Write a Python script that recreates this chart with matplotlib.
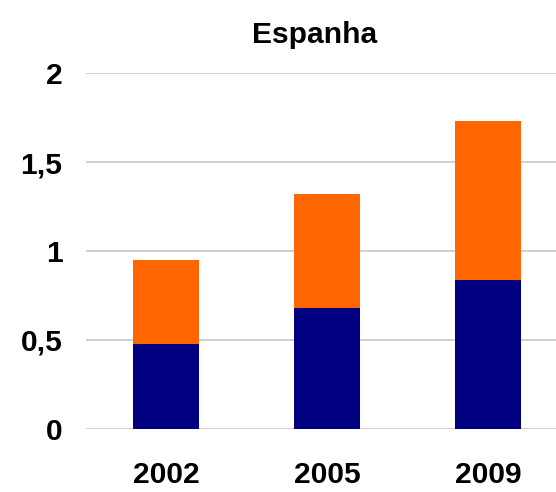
import matplotlib
matplotlib.use("Agg")
import matplotlib.pyplot as plt
import numpy as np

categories = ["2002", "2005", "2009"]
bottom_values = [0.477, 0.679, 0.837]
top_values = [0.472, 0.642, 0.895]
yticks = [0, 0.5, 1, 1.5, 2]
ytick_labels = ["0", "0,5", "1", "1,5", "2"]
title = "Espanha"

plt.rcParams['font.family'] = ['Liberation Sans', 'DejaVu Sans']

W, H = 556, 492
fig = plt.figure(figsize=(W / 100, H / 100), dpi=100)
ax = fig.add_axes([86 / W, (H - 428.7) / H, (W - 86) / W, (428.7 - 73.3) / H])

x = np.arange(len(categories))
navy = "#000080"
orange = "#FF6600"
ax.bar(x, bottom_values, width=0.41, color=navy, zorder=3)
ax.bar(x, top_values, width=0.41, bottom=bottom_values, color=orange, zorder=3)

ax.set_xlim(-0.5, 2.42)
ax.set_ylim(0, 2)
ax.set_yticks(yticks)
ax.set_yticklabels(ytick_labels)
ax.set_xticks(x)
ax.set_xticklabels(categories)
ax.yaxis.grid(True, color="#c8c8c8", linewidth=1.2, zorder=0)
ax.set_axisbelow(True)
for s in ax.spines.values():
    s.set_visible(False)
ax.tick_params(axis='y', length=0, pad=17, labelsize=21.6)
ax.tick_params(axis='x', length=0, pad=23, labelsize=21.6)
for lab in ax.get_xticklabels() + ax.get_yticklabels():
    lab.set_fontweight('bold')

fig.text(314.7 / W, 1 - 43 / H, title, ha='center', va='baseline',
         fontsize=21.6, fontweight='bold')

fig.savefig("out.png", dpi=100)
